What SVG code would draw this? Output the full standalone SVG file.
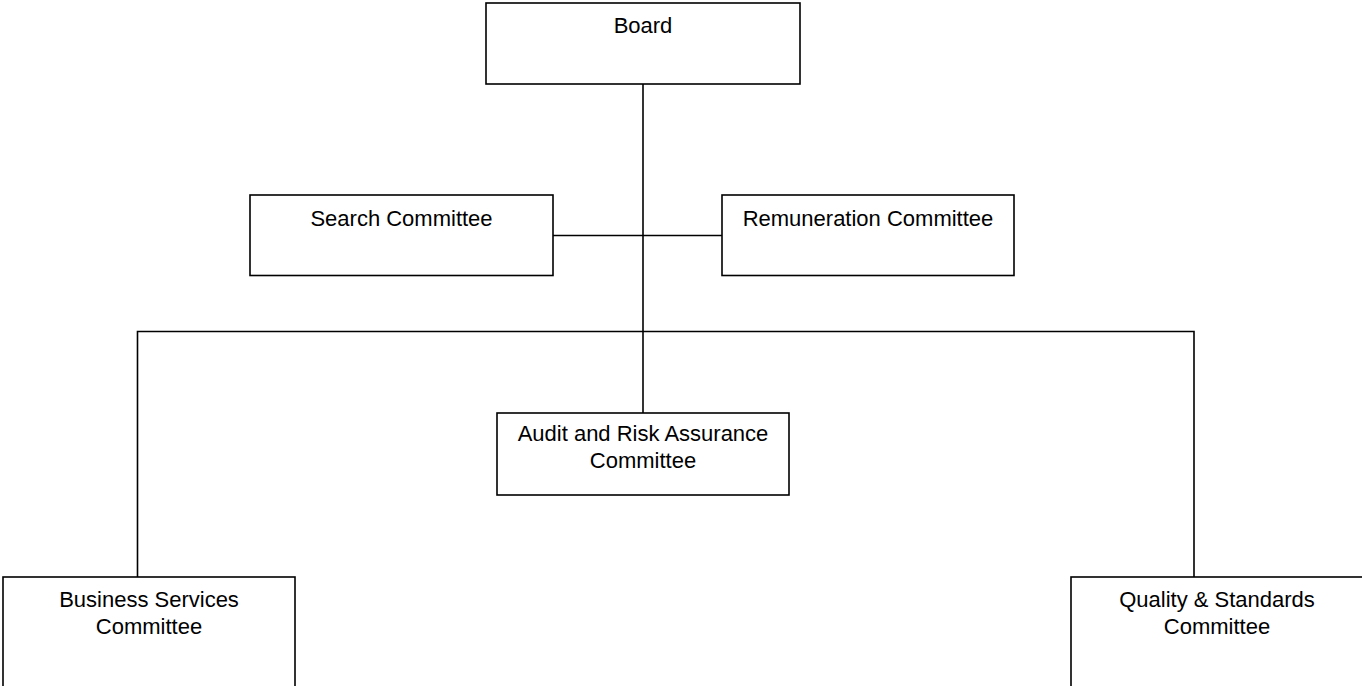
<svg xmlns="http://www.w3.org/2000/svg" width="1362" height="686" viewBox="0 0 1362 686">
<style>
.box{fill:#fff;stroke:#000;stroke-width:1.6}
.lbl{font-family:"Liberation Sans",Arial,sans-serif;font-size:22px;fill:#000;text-anchor:middle}
.conn{fill:none;stroke:#000;stroke-width:1.6}
</style>
<rect width="1362" height="686" fill="#fff"/>
<g id="connectors">
<path class="conn" d="M643 84 V413"/>
<path class="conn" d="M553 235.5 H722"/>
<path class="conn" d="M137.5 577 V331.5 H1194 V577"/>
</g>
<g id="board"><rect class="box" x="486" y="3" width="314" height="81"/><text class="lbl" x="643" y="33">Board</text></g>
<g id="search"><rect class="box" x="250" y="195" width="303" height="80.5"/><text class="lbl" x="401.5" y="226">Search Committee</text></g>
<g id="remuneration"><rect class="box" x="722" y="195" width="292" height="80.5"/><text class="lbl" x="868" y="226">Remuneration Committee</text></g>
<g id="audit"><rect class="box" x="497" y="413" width="292" height="82"/><text class="lbl" x="643" y="441">Audit and Risk Assurance</text><text class="lbl" x="643" y="468">Committee</text></g>
<g id="business"><rect class="box" x="3" y="577" width="292" height="120"/><text class="lbl" x="149" y="607">Business Services</text><text class="lbl" x="149" y="633.5">Committee</text></g>
<g id="quality"><rect class="box" x="1071" y="577" width="292" height="120"/><text class="lbl" x="1217" y="607">Quality &amp; Standards</text><text class="lbl" x="1217" y="633.5">Committee</text></g>
</svg>
